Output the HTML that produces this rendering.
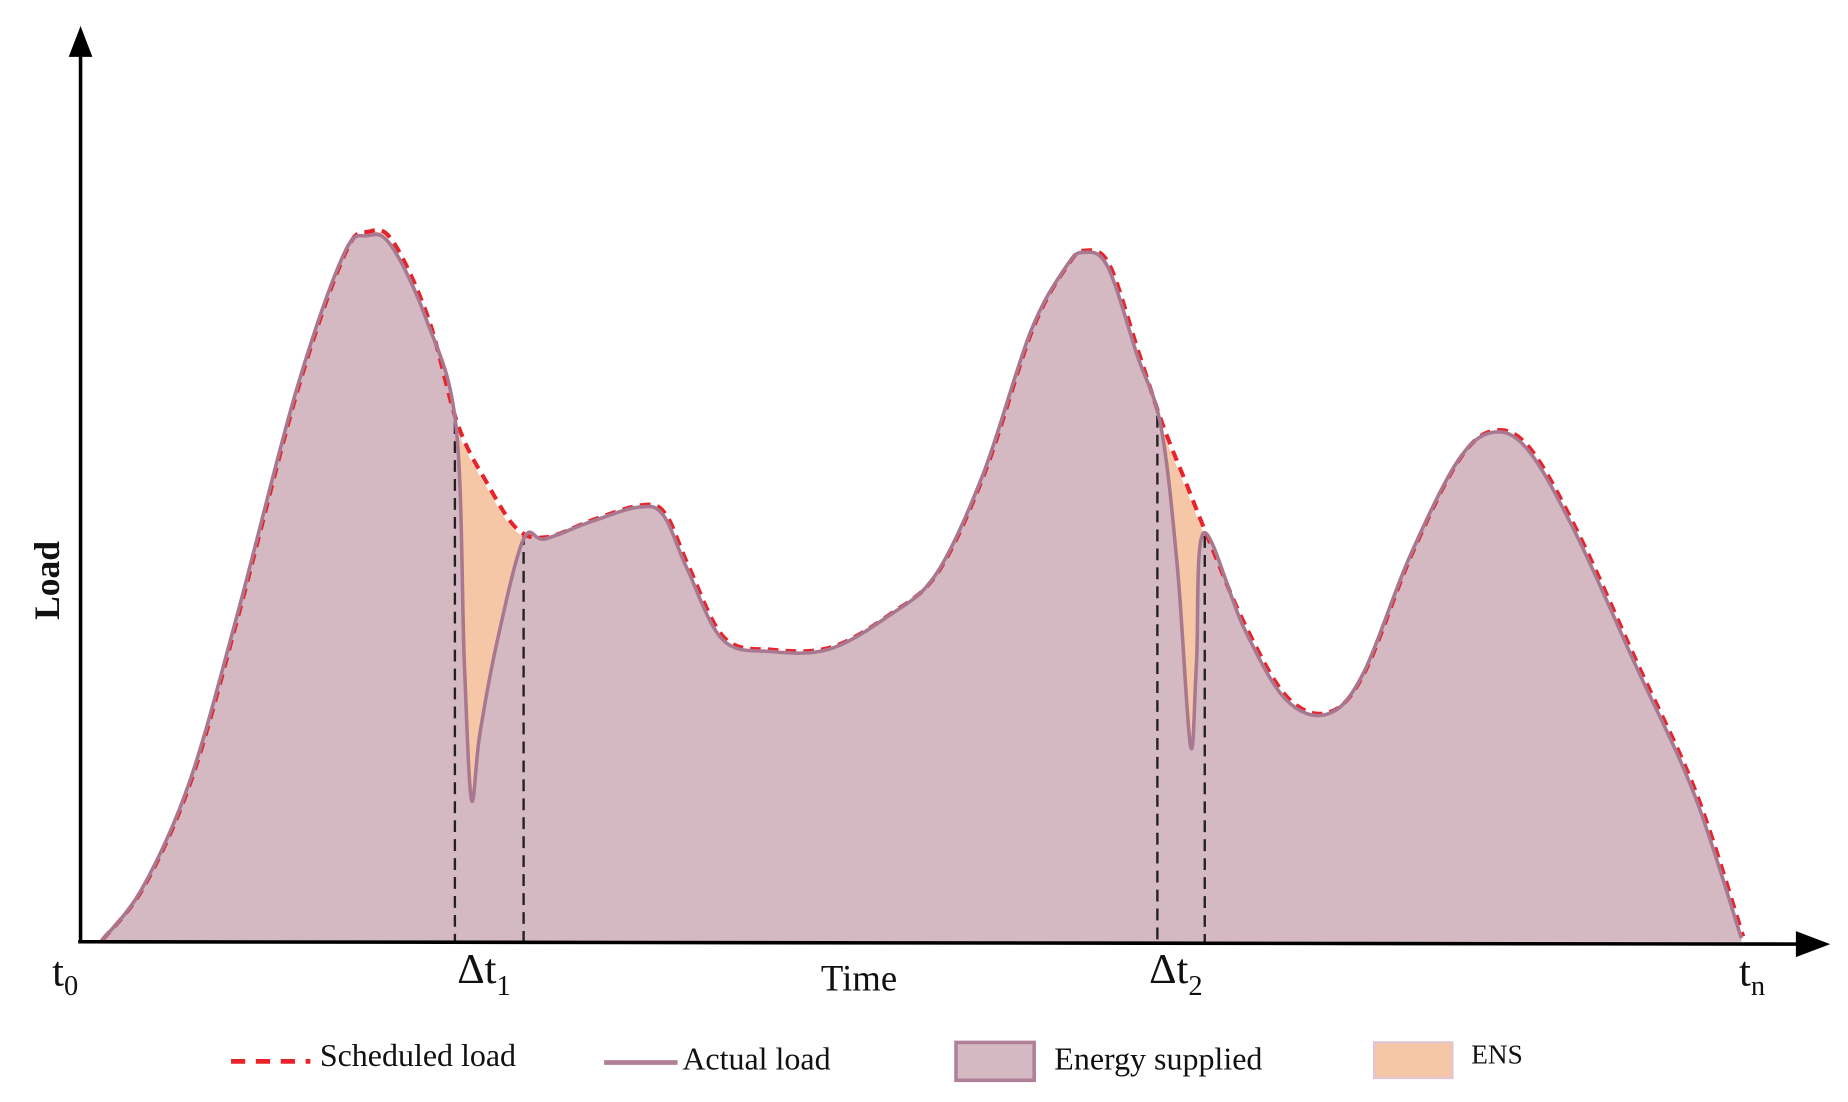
<!DOCTYPE html>
<html><head><meta charset="utf-8"><style>
html,body{margin:0;padding:0;background:#fff}
svg{display:block}
text{font-family:"Liberation Serif",serif;fill:#111}
</style></head><body>
<svg width="1848" height="1102" viewBox="0 0 1560 930.3" preserveAspectRatio="none" xmlns="http://www.w3.org/2000/svg">
<g id="fills"></g>
<g id="lines"></g>
<g id="axes">
  <line x1="68" y1="795" x2="68" y2="40" stroke="#000" stroke-width="3"/>
  <polygon points="68,22 58,48 78,48" fill="#000"/>
  <line x1="66" y1="795" x2="1520" y2="797" stroke="#000" stroke-width="3"/>
  <polygon points="1545,797 1516,786 1516,808" fill="#000"/>
</g>
<text x="44" y="832" font-size="36">t<tspan font-size="24" dy="8">0</tspan></text>
<text x="386" y="830" font-size="36">Δt<tspan font-size="24" dy="10">1</tspan></text>
<text x="693" y="836" font-size="31">Time</text>
<text x="970" y="830" font-size="36">Δt<tspan font-size="24" dy="10">2</tspan></text>
<text x="1468" y="832" font-size="36">t<tspan font-size="24" dy="8">n</tspan></text>
<text transform="translate(50,490) rotate(-90)" text-anchor="middle" font-size="30" font-weight="bold">Load</text>
<g>
  <line x1="195" y1="896" x2="262" y2="896" stroke="#e8232a" stroke-width="4" stroke-dasharray="12,9"/>
  <text x="270" y="900" font-size="27">Scheduled load</text>
  <line x1="510" y1="897" x2="572" y2="897" stroke="#b07f98" stroke-width="4"/>
  <text x="576" y="903" font-size="27">Actual load</text>
  <rect x="807" y="880" width="66" height="32" fill="#d4b8c2" stroke="#b07f98" stroke-width="3"/>
  <text x="890" y="903" font-size="27">Energy supplied</text>
  <rect x="1160" y="880" width="66" height="30" fill="#f6c7a6" stroke="#e2c5cf" stroke-width="2"/>
  <text x="1242" y="898" font-size="23">ENS</text>
</g>
</svg>
<script>
const schedTime = [1.7,5.2,9.2,13.2,18.2,22.2,24.2,26.2,29.2,31.7,34.2,36.7,39.2,43.2,47.2,49.2,51.2,54.2,58.2,63.2,68.2,72.2,76.2,80.2,83.2,84.7,86.7,89.2,91.2,93.2,95.2,98.2,101.7,105.2,108.2,112.2,116.2,119.2,122.2,126.2,131.2,136.2,140.2];
const schedLoad = [0,4.5,13.5,27.5,46.5,58,59.8,59,52.5,43.5,38.5,34.7,34,35.5,36.7,36,31.5,25.5,24.5,24.7,27.5,31,39.5,51.5,57,58.2,57,49.5,43.5,38.5,33.5,26.5,20.5,19.2,22.5,32.5,40.5,43,41.5,34.5,23.5,12.5,0.3];
const actualTime = [1.7,5.2,9.2,13.2,18.2,22.2,24.2,26.2,29.2,31.7,32.4,33,33.7,35.2,37.4,39.2,43.2,47.2,49.2,51.2,54.2,58.2,63.2,68.2,72.2,76.2,80.2,83.2,84.7,86.7,89.2,91.2,92.6,93.7,94.2,94.8,98.2,101.7,105.2,108.2,112.2,116.2,119.2,122.2,126.2,131.2,136.2,140.2];
const actualLoad = [0,4.5,13.5,27.5,46.5,58,59.6,58.8,52.5,43.5,23.5,12,17.5,25.5,34,34,35.5,36.7,36,31.5,25.5,24.5,24.7,27.5,31,39.5,51.5,57,58.2,57,49.5,43.5,31.5,16.5,23.5,34.5,26.5,20.5,19.2,22.5,32.5,40.5,43,41.5,34.5,23.5,12.5,0.3];
const markerTimes = [31.6,37.4,90.9,94.9];

const xs = t => 68 + t*10;
const ys = v => 795 - v*10;
const NS = "http://www.w3.org/2000/svg";
function pathFrom(T, V){
  const p = T.map((t,i)=>[xs(t), ys(V[i])]);
  let d = `M${p[0][0]},${p[0][1]}`;
  for(let i=0;i<p.length-1;i++){
    const p0=p[Math.max(0,i-1)], p1=p[i], p2=p[i+1], p3=p[Math.min(p.length-1,i+2)];
    const c1=[p1[0]+(p2[0]-p0[0])/6, p1[1]+(p2[1]-p0[1])/6];
    const c2=[p2[0]-(p3[0]-p1[0])/6, p2[1]-(p3[1]-p1[1])/6];
    d += ` C${c1[0]},${c1[1]} ${c2[0]},${c2[1]} ${p2[0]},${p2[1]}`;
  }
  return d;
}
function interp(T,V,t){
  for(let i=0;i<T.length-1;i++) if(t>=T[i]&&t<=T[i+1]) return V[i]+(V[i+1]-V[i])*(t-T[i])/(T[i+1]-T[i]);
  return 0;
}
const fills=document.getElementById('fills'), lines=document.getElementById('lines');
const sd = pathFrom(schedTime, schedLoad), ad = pathFrom(actualTime, actualLoad);
const base = ys(0);
const ens=document.createElementNS(NS,'path');
ens.setAttribute('d', sd+` L${xs(schedTime[schedTime.length-1])},${base} L${xs(schedTime[0])},${base} Z`);
ens.setAttribute('fill','#f6c7a6');


fills.appendChild(ens);
const sup=document.createElementNS(NS,'path');
sup.setAttribute('d', ad+` L${xs(actualTime[actualTime.length-1])},${base} L${xs(actualTime[0])},${base} Z`);
sup.setAttribute('fill','#d4b8c2');


fills.appendChild(sup);
markerTimes.forEach(t=>{
  const l=document.createElementNS(NS,'line');
  l.setAttribute('x1',xs(t)); l.setAttribute('x2',xs(t));
  l.setAttribute('y1',ys(interp(schedTime,schedLoad,t))); l.setAttribute('y2',base);
  l.setAttribute('stroke','#222'); l.setAttribute('stroke-width','2'); l.setAttribute('stroke-dasharray','10,6');
  
  
  lines.appendChild(l);
});
const al=document.createElementNS(NS,'path');
al.setAttribute('d',ad); al.setAttribute('fill','none'); al.setAttribute('stroke','#a87890'); al.setAttribute('stroke-width','3');


const sl=document.createElementNS(NS,'path');
sl.setAttribute('d',sd); sl.setAttribute('fill','none'); sl.setAttribute('stroke','#e8232a'); sl.setAttribute('stroke-width','3.5'); sl.setAttribute('stroke-dasharray','9,6');
sl.setAttribute('transform','translate(1.5,-1.5)');


lines.appendChild(sl);
lines.appendChild(al);
</script>
</body></html>
